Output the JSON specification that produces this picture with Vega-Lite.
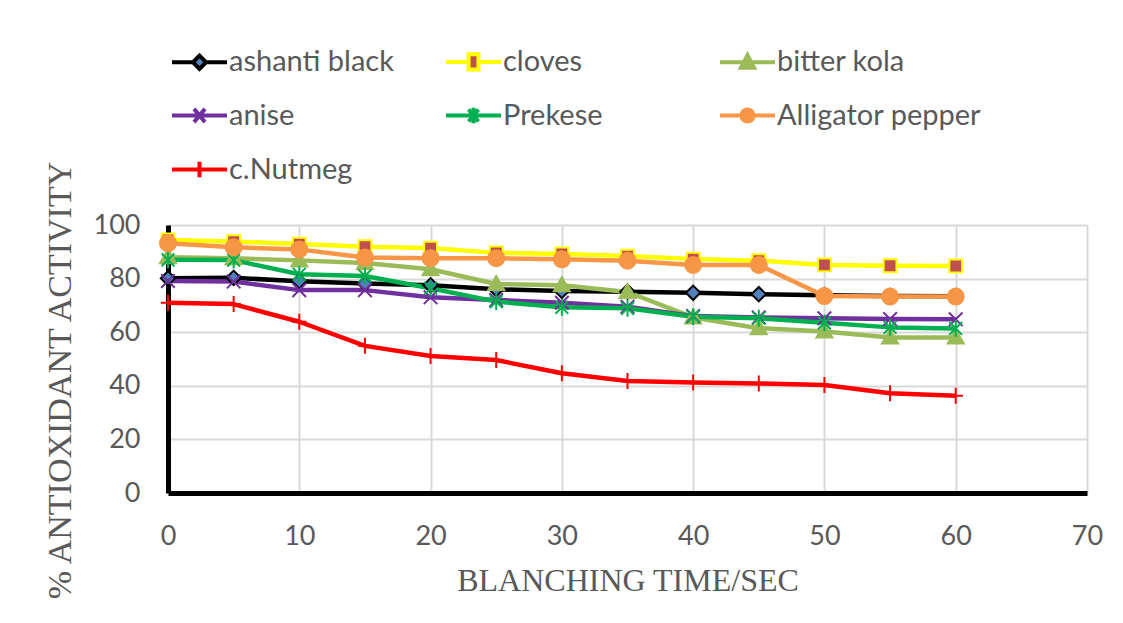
{
  "$schema": "https://vega.github.io/schema/vega-lite/v6.json",
  "width": 919,
  "height": 268,
  "autosize": {"type": "none"},
  "padding": {"left": 168, "top": 225, "right": 36, "bottom": 130},
  "background": "white",
  "config": {
    "view": {"stroke": null},
    "font": "Lato",
    "axis": {
      "labelFont": "Lato",
      "labelFontSize": 27,
      "labelColor": "#595959",
      "labelFlush": false,
      "titleFont": "Liberation Serif",
      "titleFontSize": 32,
      "titleFontWeight": "normal",
      "titleColor": "#595959",
      "gridColor": "#D9D9D9",
      "gridWidth": 2,
      "domainColor": "#000000",
      "domainWidth": 5,
      "ticks": false,
      "tickSize": 0
    },
    "legend": {
      "orient": "none",
      "direction": "horizontal",
      "legendX": 2,
      "legendY": -193,
      "columns": 3,
      "gridAlign": "all",
      "columnPadding": 4,
      "rowPadding": 8,
      "padding": 0,
      "symbolSize": 3025,
      "symbolStrokeWidth": 4,
      "symbolOpacity": 1,
      "labelFont": "Lato",
      "labelFontSize": 29,
      "labelColor": "#595959",
      "labelOffset": 0,
      "labelLimit": 400
    }
  },
  "data": {
    "values": [
      {"t": 0, "series": "ashanti black", "v": 80.1},
      {"t": 5, "series": "ashanti black", "v": 80.3},
      {"t": 10, "series": "ashanti black", "v": 79.0},
      {"t": 15, "series": "ashanti black", "v": 78.2},
      {"t": 20, "series": "ashanti black", "v": 77.5},
      {"t": 25, "series": "ashanti black", "v": 76.0},
      {"t": 30, "series": "ashanti black", "v": 75.4},
      {"t": 35, "series": "ashanti black", "v": 75.1},
      {"t": 40, "series": "ashanti black", "v": 74.7},
      {"t": 45, "series": "ashanti black", "v": 74.2},
      {"t": 50, "series": "ashanti black", "v": 73.8},
      {"t": 55, "series": "ashanti black", "v": 73.5},
      {"t": 60, "series": "ashanti black", "v": 73.4},
      {"t": 0, "series": "cloves", "v": 94.4},
      {"t": 5, "series": "cloves", "v": 93.8},
      {"t": 10, "series": "cloves", "v": 92.9},
      {"t": 15, "series": "cloves", "v": 91.9},
      {"t": 20, "series": "cloves", "v": 91.4},
      {"t": 25, "series": "cloves", "v": 89.6},
      {"t": 30, "series": "cloves", "v": 89.2},
      {"t": 35, "series": "cloves", "v": 88.4},
      {"t": 40, "series": "cloves", "v": 87.3},
      {"t": 45, "series": "cloves", "v": 86.7},
      {"t": 50, "series": "cloves", "v": 85.1},
      {"t": 55, "series": "cloves", "v": 84.8},
      {"t": 60, "series": "cloves", "v": 84.7},
      {"t": 0, "series": "bitter kola", "v": 88.0},
      {"t": 5, "series": "bitter kola", "v": 87.6},
      {"t": 10, "series": "bitter kola", "v": 86.8},
      {"t": 15, "series": "bitter kola", "v": 85.8},
      {"t": 20, "series": "bitter kola", "v": 83.5},
      {"t": 25, "series": "bitter kola", "v": 78.0},
      {"t": 30, "series": "bitter kola", "v": 77.5},
      {"t": 35, "series": "bitter kola", "v": 75.0},
      {"t": 40, "series": "bitter kola", "v": 65.5},
      {"t": 45, "series": "bitter kola", "v": 61.5},
      {"t": 50, "series": "bitter kola", "v": 60.3},
      {"t": 55, "series": "bitter kola", "v": 58.0},
      {"t": 60, "series": "bitter kola", "v": 58.0},
      {"t": 0, "series": "anise", "v": 79.1},
      {"t": 5, "series": "anise", "v": 78.9},
      {"t": 10, "series": "anise", "v": 75.7},
      {"t": 15, "series": "anise", "v": 75.7},
      {"t": 20, "series": "anise", "v": 73.0},
      {"t": 25, "series": "anise", "v": 72.0},
      {"t": 30, "series": "anise", "v": 71.0},
      {"t": 35, "series": "anise", "v": 69.5},
      {"t": 40, "series": "anise", "v": 66.0},
      {"t": 45, "series": "anise", "v": 65.5},
      {"t": 50, "series": "anise", "v": 65.2},
      {"t": 55, "series": "anise", "v": 64.9},
      {"t": 60, "series": "anise", "v": 64.8},
      {"t": 0, "series": "Prekese", "v": 87.0},
      {"t": 5, "series": "Prekese", "v": 86.9},
      {"t": 10, "series": "Prekese", "v": 81.6},
      {"t": 15, "series": "Prekese", "v": 81.0},
      {"t": 20, "series": "Prekese", "v": 76.4},
      {"t": 25, "series": "Prekese", "v": 71.4},
      {"t": 30, "series": "Prekese", "v": 69.3},
      {"t": 35, "series": "Prekese", "v": 68.9},
      {"t": 40, "series": "Prekese", "v": 65.8},
      {"t": 45, "series": "Prekese", "v": 65.2},
      {"t": 50, "series": "Prekese", "v": 63.5},
      {"t": 55, "series": "Prekese", "v": 61.8},
      {"t": 60, "series": "Prekese", "v": 61.4},
      {"t": 0, "series": "Alligator pepper", "v": 93.2},
      {"t": 5, "series": "Alligator pepper", "v": 91.7},
      {"t": 10, "series": "Alligator pepper", "v": 90.9},
      {"t": 15, "series": "Alligator pepper", "v": 87.9},
      {"t": 20, "series": "Alligator pepper", "v": 87.6},
      {"t": 25, "series": "Alligator pepper", "v": 87.6},
      {"t": 30, "series": "Alligator pepper", "v": 87.2},
      {"t": 35, "series": "Alligator pepper", "v": 86.7},
      {"t": 40, "series": "Alligator pepper", "v": 85.1},
      {"t": 45, "series": "Alligator pepper", "v": 85.1},
      {"t": 50, "series": "Alligator pepper", "v": 73.5},
      {"t": 55, "series": "Alligator pepper", "v": 73.3},
      {"t": 60, "series": "Alligator pepper", "v": 73.3},
      {"t": 0, "series": "c.Nutmeg", "v": 71.0},
      {"t": 5, "series": "c.Nutmeg", "v": 70.5},
      {"t": 10, "series": "c.Nutmeg", "v": 63.9},
      {"t": 15, "series": "c.Nutmeg", "v": 54.9},
      {"t": 20, "series": "c.Nutmeg", "v": 51.1},
      {"t": 25, "series": "c.Nutmeg", "v": 49.6},
      {"t": 30, "series": "c.Nutmeg", "v": 44.7},
      {"t": 35, "series": "c.Nutmeg", "v": 41.8},
      {"t": 40, "series": "c.Nutmeg", "v": 41.2},
      {"t": 45, "series": "c.Nutmeg", "v": 40.9},
      {"t": 50, "series": "c.Nutmeg", "v": 40.3},
      {"t": 55, "series": "c.Nutmeg", "v": 37.2},
      {"t": 60, "series": "c.Nutmeg", "v": 36.3}
    ]
  },
  "encoding": {
    "x": {
      "field": "t",
      "type": "quantitative",
      "scale": {"domain": [0, 70], "nice": false},
      "axis": {
        "values": [0, 10, 20, 30, 40, 50, 60, 70],
        "title": "BLANCHING TIME/SEC",
        "labelPadding": 30,
        "titlePadding": 16,
        "grid": true
      }
    },
    "y": {
      "field": "v",
      "type": "quantitative",
      "scale": {"domain": [0, 100], "nice": false},
      "axis": {
        "values": [0, 20, 40, 60, 80, 100],
        "title": "% ANTIOXIDANT ACTIVITY",
        "titleFontSize": 34,
        "titleY": 155,
        "labelPadding": 28,
        "titlePadding": 16,
        "grid": true
      }
    }
  },
  "resolve": {"scale": {"stroke": "independent", "fill": "independent", "shape": "independent"}},
  "layer": [
    {
      "mark": {"type": "line", "strokeWidth": 4.5, "strokeJoin": "round"},
      "encoding": {
        "stroke": {
          "field": "series",
          "type": "nominal",
          "scale": {
            "domain": ["ashanti black", "cloves", "bitter kola", "anise", "Prekese", "Alligator pepper", "c.Nutmeg"],
            "range": ["#000000", "#FFFF00", "#9BBB59", "#7030A0", "#00B050", "#F79646", "#FF0000"]
          },
          "legend": null
        }
      }
    },
    {
      "mark": {"type": "point", "opacity": 1, "strokeWidth": 2, "size": 256},
      "encoding": {
        "stroke": {
          "field": "series",
          "type": "nominal",
          "scale": {
            "domain": ["ashanti black", "cloves", "bitter kola", "anise", "Prekese", "Alligator pepper", "c.Nutmeg"],
            "range": ["#000000", "#FFFF00", "#9BBB59", "#7030A0", "#00B050", "#F79646", "#FF0000"]
          },
          "legend": null
        },
        "fill": {
          "field": "series",
          "type": "nominal",
          "scale": {
            "domain": ["ashanti black", "cloves", "bitter kola", "anise", "Prekese", "Alligator pepper", "c.Nutmeg"],
            "range": ["#4F81BD", "#C0504D", "#9BBB59", "transparent", "transparent", "#F79646", "transparent"]
          },
          "legend": null
        },
        "shape": {
          "field": "series",
          "type": "nominal",
          "scale": {
            "domain": ["ashanti black", "cloves", "bitter kola", "anise", "Prekese", "Alligator pepper", "c.Nutmeg"],
            "range": [
              "M0,-0.9L0.9,0L0,0.9L-0.9,0Z",
              "M-0.8,-0.8H0.8V0.8H-0.8Z",
              "M0,-1L1,0.75H-1Z",
              "M-0.85,-0.85L0.85,0.85M-0.85,0.85L0.85,-0.85",
              "M-0.8,-0.8L0.8,0.8M-0.8,0.8L0.8,-0.8M0,-1.05V1.05",
              "M-1,0A1,1 0 1,0 1,0A1,1 0 1,0 -1,0Z",
              "M-0.9,0H0.9M0,-1V1"
            ]
          },
          "legend": null
        }
      }
    },
    {
      "transform": [{"filter": "datum.t < 0"}],
      "mark": {"type": "point", "opacity": 1, "strokeWidth": 4},
      "encoding": {
        "stroke": {
          "field": "series",
          "type": "nominal",
          "scale": {
            "domain": ["ashanti black", "cloves", "bitter kola", "anise", "Prekese", "Alligator pepper", "c.Nutmeg"],
            "range": ["#000000", "#FFFF00", "#9BBB59", "#7030A0", "#00B050", "#F79646", "#FF0000"]
          },
          "legend": {"title": null}
        },
        "fill": {
          "field": "series",
          "type": "nominal",
          "scale": {
            "domain": ["ashanti black", "cloves", "bitter kola", "anise", "Prekese", "Alligator pepper", "c.Nutmeg"],
            "range": ["#4F81BD", "#C0504D", "#9BBB59", "transparent", "transparent", "#F79646", "transparent"]
          },
          "legend": {"title": null}
        },
        "shape": {
          "field": "series",
          "type": "nominal",
          "scale": {
            "domain": ["ashanti black", "cloves", "bitter kola", "anise", "Prekese", "Alligator pepper", "c.Nutmeg"],
            "range": [
              "M-1,0H-0.24M0.24,0H1M0,-0.24L0.24,0L0,0.24L-0.24,0Z",
              "M-1,0H-0.18M0.18,0H1M-0.18,-0.28H0.18V0.28H-0.18Z",
              "M-1,0H1M0,-0.26L0.24,0.2H-0.24Z",
              "M-1,0H1M-0.2,-0.24L0.2,0.24M-0.2,0.24L0.2,-0.24",
              "M-1,0H1M-0.18,-0.22L0.18,0.22M-0.18,0.22L0.18,-0.22M0,-0.28V0.28",
              "M-1,0H1M-0.22,0A0.22,0.22 0 1,0 0.22,0A0.22,0.22 0 1,0 -0.22,0Z",
              "M-1,0H1M0,-0.28V0.28"
            ]
          },
          "legend": {"title": null}
        }
      }
    }
  ]
}
